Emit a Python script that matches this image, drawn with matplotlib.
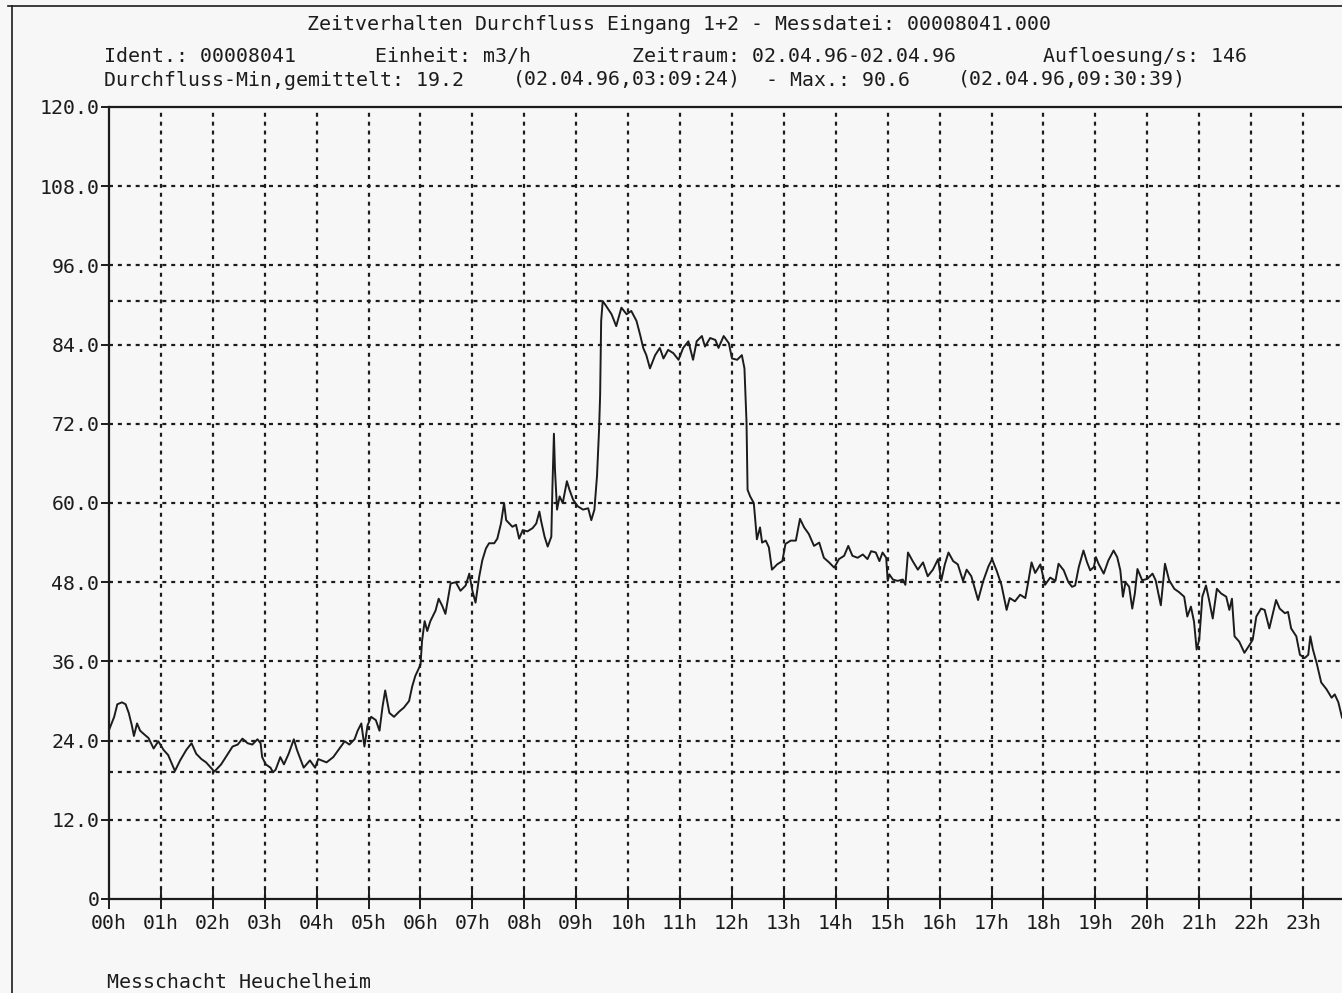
import matplotlib
matplotlib.use("Agg")
import matplotlib.pyplot as plt
from matplotlib.lines import Line2D

plt.rcParams['font.family'] = ['DejaVu Sans Mono']

stunden = [0.00, 0.10, 0.16, 0.25, 0.32, 0.38, 0.44, 0.48, 0.54, 0.60, 0.67, 0.76, 0.86, 0.95,
           1.05, 1.14, 1.27, 1.37, 1.49, 1.59, 1.68, 1.78, 1.87, 2.03, 2.16, 2.29, 2.38, 2.48,
           2.57, 2.67, 2.76, 2.86, 2.92, 2.95, 3.02, 3.11, 3.16, 3.21, 3.30, 3.37, 3.46, 3.56,
           3.62, 3.75, 3.87, 3.97, 4.03, 4.19, 4.32, 4.44, 4.54, 4.63, 4.73, 4.79, 4.86, 4.92,
           4.98, 5.05, 5.14, 5.21, 5.27, 5.32, 5.40, 5.49, 5.59, 5.68, 5.78, 5.84, 5.90, 6.00,
           6.03, 6.08, 6.13, 6.19, 6.29, 6.35, 6.42, 6.48, 6.58, 6.68, 6.77, 6.87, 6.94, 7.00,
           7.06, 7.13, 7.19, 7.26, 7.32, 7.42, 7.48, 7.55, 7.61, 7.65, 7.71, 7.77, 7.84, 7.90,
           7.97, 8.06, 8.16, 8.23, 8.29, 8.32, 8.39, 8.45, 8.52, 8.54, 8.57, 8.59, 8.63, 8.68,
           8.74, 8.82, 8.87, 8.94, 9.03, 9.13, 9.23, 9.29, 9.35, 9.40, 9.44, 9.46, 9.48, 9.51,
           9.58, 9.68, 9.77, 9.87, 9.97, 10.06, 10.16, 10.23, 10.29, 10.35, 10.42, 10.52, 10.61,
           10.68, 10.77, 10.87, 10.97, 11.06, 11.16, 11.25, 11.32, 11.42, 11.48, 11.58, 11.68,
           11.74, 11.84, 11.94, 12.00, 12.10, 12.19, 12.24, 12.28, 12.30, 12.35, 12.42,
           12.48, 12.54, 12.58, 12.65, 12.71, 12.77, 12.87, 12.97, 13.03, 13.13, 13.23, 13.31,
           13.39, 13.48, 13.58, 13.68, 13.77, 13.87, 13.97, 14.06, 14.16, 14.24, 14.32, 14.42,
           14.52, 14.61, 14.68, 14.77, 14.84, 14.90, 14.97, 15.00, 15.03, 15.10, 15.19, 15.29,
           15.34, 15.39, 15.48, 15.58, 15.68, 15.77, 15.87, 15.97, 16.03, 16.10, 16.17, 16.26,
           16.35, 16.45, 16.52, 16.61, 16.74, 16.84, 16.94, 17.01, 17.10, 17.19, 17.29, 17.35,
           17.45, 17.55, 17.65, 17.71, 17.77, 17.84, 17.94, 18.03, 18.13, 18.23,
           18.29, 18.39, 18.48, 18.55, 18.61, 18.68, 18.77, 18.84, 18.90, 18.97, 19.01, 19.06,
           19.16, 19.25, 19.35, 19.42, 19.48, 19.53, 19.58, 19.65, 19.71, 19.76, 19.81, 19.90,
           20.00, 20.10, 20.16, 20.26, 20.34, 20.42, 20.52, 20.61, 20.71, 20.77, 20.84, 20.90,
           20.95, 21.00, 21.06, 21.13, 21.19, 21.26, 21.34, 21.42, 21.52, 21.58, 21.63, 21.68,
           21.77, 21.87, 21.97, 22.03, 22.10, 22.19, 22.26, 22.35, 22.42, 22.48, 22.55, 22.65,
           22.71, 22.77, 22.87, 22.94, 23.03, 23.10, 23.14, 23.19, 23.26, 23.35, 23.45, 23.55,
           23.61, 23.68, 23.75]
durchfluss = [25.6, 27.6, 29.5, 29.8, 29.5, 28.2, 26.3, 24.7, 26.6, 25.5, 25.0, 24.4, 22.8, 23.9,
              22.6, 21.8, 19.4, 21.0, 22.6, 23.6, 22.0, 21.2, 20.7, 19.3, 20.4, 22.0, 23.1, 23.4,
              24.3, 23.6, 23.4, 24.2, 23.6, 21.5, 20.4, 19.9, 19.2, 19.6, 21.5, 20.4, 22.0, 24.2,
              22.6, 19.9, 21.0, 19.9, 21.2, 20.7, 21.5, 22.8, 23.9, 23.4, 24.2, 25.5, 26.6, 23.1,
              26.3, 27.6, 27.1, 25.5, 29.2, 31.6, 28.2, 27.6, 28.4, 29.0, 30.0, 32.2, 33.8, 35.5,
              39.1, 42.1, 40.6, 42.1, 43.7, 45.5, 44.4, 43.2, 47.8, 48.0, 46.7, 47.5, 49.3, 46.7,
              44.9, 48.8, 51.3, 53.1, 53.9, 53.9, 54.6, 56.9, 60.0, 57.4, 56.9, 56.4, 56.7, 54.6,
              55.9, 55.7, 56.2, 56.9, 58.7, 57.4, 54.9, 53.4, 54.9, 62.0, 70.5, 65.1, 59.0, 61.0,
              60.0, 63.3, 62.0, 60.5, 59.5, 59.0, 59.2, 57.4, 59.0, 64.1, 71.2, 76.3, 87.6, 90.6,
              89.8, 88.6, 86.8, 89.6, 88.6, 89.1, 87.6, 85.5, 83.5, 82.4, 80.4, 82.4, 83.5,
              81.9, 83.2, 82.7, 81.7, 83.5, 84.5, 81.7, 84.5, 85.3, 83.7, 85.0, 84.7,
              83.5, 85.3, 84.2, 81.9, 81.7, 82.4, 80.4, 72.2, 62.0, 61.0, 60.0,
              54.5, 56.3, 54.0, 54.3, 53.3, 49.9, 50.7, 51.2, 53.8, 54.3, 54.3, 57.6,
              56.3, 55.3, 53.5, 54.0, 51.7, 51.0, 50.2, 51.5, 52.0, 53.5, 52.0, 51.7,
              52.2, 51.5, 52.7, 52.5, 51.2, 52.5, 51.7, 48.2, 49.2, 48.4, 48.2, 48.4,
              47.6, 52.5, 51.2, 49.9, 51.0, 48.9, 49.9, 51.5, 48.2, 50.7, 52.5, 51.2,
              50.7, 48.2, 49.9, 48.9, 45.3, 48.2, 50.4, 51.5, 49.7, 47.6, 43.8, 45.6,
              45.1, 46.1, 45.6, 48.2, 51.0, 49.4, 50.7, 47.6, 48.7, 48.2,
              50.8, 49.8, 48.0, 47.3, 47.5, 50.3, 52.8, 51.0, 49.8, 50.3, 51.8, 50.8,
              49.3, 51.3, 52.8, 51.8, 49.8, 45.8, 48.0, 47.3, 44.0, 46.3, 50.0, 48.3,
              48.5, 49.3, 48.3, 44.5, 50.8, 48.3, 47.0, 46.5, 45.8, 42.8, 44.3, 42.0,
              37.8, 39.3, 45.8, 47.5, 45.3, 42.5, 47.0, 46.3, 45.8, 43.8, 45.5, 39.8,
              39.0, 37.3, 38.5, 39.3, 42.8, 44.0, 43.8, 41.0, 43.3, 45.3, 44.0, 43.3,
              43.5, 41.0, 39.8, 37.0, 36.5, 37.0, 39.8, 37.8, 35.8, 32.8, 31.8, 30.5,
              31.0, 29.8, 27.5]

y_ticks = [0, 12, 24, 36, 48, 60, 72, 84, 96, 108, 120]
x_ticks = list(range(24))
x_labels = ["%02dh" % h for h in x_ticks]
d_min = 19.2
d_max = 90.6

W, H = 1342, 993
fond = '#f7f7f7'
encre = '#1c1c1c'
fs = 14.3

fig = plt.figure(figsize=(W / 100, H / 100), dpi=100, facecolor=fond)
ax = fig.add_axes([109 / W, (H - 899) / H, (W - 109) / W, (899 - 107) / H])
ax.set_facecolor(fond)

pointille = (0, (1.8, 2.2))
for h in x_ticks[1:]:
    ax.axvline(h, color=encre, lw=1.6, ls=pointille, zorder=1)
for v in y_ticks[1:-1] + [d_min, d_max]:
    ax.axhline(v, color=encre, lw=1.6, ls=pointille, zorder=1)

ax.plot(stunden, durchfluss, color=encre, lw=1.4, zorder=3)

ax.set_xlim(0, 23.75)
ax.set_ylim(0, 120)
ax.set_xticks(x_ticks)
ax.set_xticklabels(x_labels)
ax.set_yticks(y_ticks)
ax.set_yticklabels(["0" if v == 0 else "%.1f" % v for v in y_ticks])
ax.tick_params(axis='x', direction='inout', length=14, width=1.4, pad=4,
               labelsize=fs, colors=encre)
ax.tick_params(axis='y', direction='out', length=6, width=1.4, pad=1,
               labelsize=fs, colors=encre)
ax.spines['right'].set_visible(False)
for s in ['left', 'bottom', 'top']:
    ax.spines[s].set_linewidth(1.6)
    ax.spines[s].set_color(encre)

def texte(x, y, s):
    fig.text(x / W, 1 - y / H, s, fontsize=fs, color=encre, ha='left', va='center')

texte(307, 24, "Zeitverhalten Durchfluss Eingang 1+2 - Messdatei: 00008041.000")
texte(104, 56, "Ident.: 00008041")
texte(375, 56, "Einheit: m3/h")
texte(632, 56, "Zeitraum: 02.04.96-02.04.96")
texte(1043, 56, "Aufloesung/s: 146")
texte(104, 80, "Durchfluss-Min,gemittelt: 19.2")
texte(513, 80, "(02.04.96,03:09:24)")
texte(766, 80, "- Max.: 90.6")
texte(958, 80, "(02.04.96,09:30:39)")
texte(107, 983, "Messchacht Heuchelheim")

# Rahmen des Ausdrucks
fig.add_artist(Line2D([12 / W, 12 / W], [0, 1 - 6 / H], transform=fig.transFigure,
                      color=encre, lw=1.2))
fig.add_artist(Line2D([8 / W, 1], [1 - 6 / H, 1 - 6 / H], transform=fig.transFigure,
                      color=encre, lw=1.2))

fig.savefig("out.png", dpi=100, facecolor=fond)
